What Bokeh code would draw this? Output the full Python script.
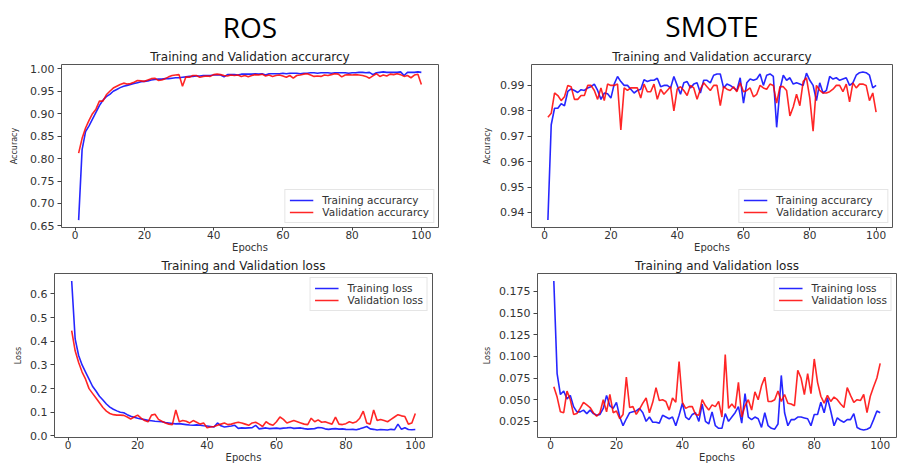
from bokeh.plotting import figure
from bokeh.layouts import row, column
from bokeh.models import Range1d, FixedTicker, PrintfTickFormatter, Title
from bokeh.embed import file_html
from bokeh.resources import INLINE

epochs = list(range(1, 101))

ros_train_acc = [
    0.663, 0.820, 0.860, 0.873, 0.888, 0.903, 0.918, 0.930, 0.938, 0.943,
    0.950, 0.954, 0.958, 0.961, 0.963, 0.965, 0.967, 0.969, 0.971, 0.972,
    0.973, 0.975, 0.976, 0.977, 0.977, 0.978, 0.978, 0.979, 0.980, 0.980,
    0.981, 0.982, 0.983, 0.983, 0.984, 0.984, 0.985, 0.985, 0.985, 0.986,
    0.986, 0.986, 0.982, 0.987, 0.987, 0.987, 0.986, 0.988, 0.988, 0.988,
    0.988, 0.989, 0.988, 0.989, 0.986, 0.989, 0.989, 0.989, 0.989, 0.990,
    0.989, 0.990, 0.990, 0.990, 0.989, 0.990, 0.990, 0.991, 0.991, 0.990,
    0.991, 0.991, 0.991, 0.990, 0.991, 0.991, 0.991, 0.991, 0.990, 0.991,
    0.991, 0.992, 0.992, 0.991, 0.992, 0.987, 0.991, 0.992, 0.993, 0.992,
    0.992, 0.992, 0.992, 0.993, 0.985, 0.992, 0.992, 0.992, 0.993, 0.992,
]
ros_val_acc = [
    0.812, 0.845, 0.868, 0.885, 0.900, 0.910, 0.928, 0.928, 0.942, 0.950,
    0.957, 0.961, 0.965, 0.968, 0.966, 0.967, 0.970, 0.974, 0.973, 0.972,
    0.975, 0.978, 0.979, 0.974, 0.975, 0.978, 0.982, 0.985, 0.986, 0.987,
    0.961, 0.982, 0.981, 0.985, 0.985, 0.981, 0.983, 0.984, 0.983, 0.987,
    0.988, 0.987, 0.985, 0.984, 0.986, 0.985, 0.986, 0.983, 0.985, 0.982,
    0.985, 0.987, 0.986, 0.988, 0.984, 0.986, 0.983, 0.985, 0.986, 0.984,
    0.981, 0.985, 0.979, 0.985, 0.986, 0.988, 0.989, 0.986, 0.983, 0.984,
    0.983, 0.986, 0.985, 0.987, 0.989, 0.988, 0.982, 0.986, 0.987, 0.986,
    0.987, 0.986, 0.985, 0.983, 0.979, 0.984, 0.989, 0.983, 0.986, 0.984,
    0.988, 0.987, 0.989, 0.987, 0.983, 0.985, 0.980, 0.986, 0.988, 0.965,
]
ros_train_loss = [
    0.655, 0.410, 0.340, 0.300, 0.270, 0.240, 0.210, 0.190, 0.168, 0.152,
    0.135, 0.122, 0.113, 0.106, 0.100, 0.098, 0.090, 0.083, 0.079, 0.075,
    0.072, 0.069, 0.066, 0.064, 0.062, 0.061, 0.060, 0.057, 0.055, 0.053,
    0.051, 0.052, 0.050, 0.048, 0.046, 0.045, 0.047, 0.045, 0.043, 0.042,
    0.040, 0.038, 0.055, 0.043, 0.038, 0.040, 0.042, 0.045, 0.032, 0.034,
    0.033, 0.034, 0.035, 0.045, 0.030, 0.032, 0.034, 0.031, 0.032, 0.033,
    0.031, 0.033, 0.034, 0.036, 0.032, 0.033, 0.034, 0.031, 0.029, 0.030,
    0.031, 0.036, 0.035, 0.030, 0.028, 0.030, 0.031, 0.029, 0.030, 0.028,
    0.027, 0.028, 0.026, 0.030, 0.035, 0.040, 0.030, 0.028, 0.025, 0.027,
    0.026, 0.025, 0.028, 0.026, 0.050, 0.028, 0.035, 0.027, 0.026, 0.027,
]
ros_val_loss = [
    0.445, 0.360, 0.310, 0.270, 0.240, 0.200, 0.180, 0.160, 0.140, 0.120,
    0.105, 0.095, 0.090, 0.088, 0.088, 0.087, 0.080, 0.072, 0.080, 0.088,
    0.075, 0.065, 0.060, 0.088, 0.092, 0.070, 0.062, 0.055, 0.050, 0.048,
    0.110, 0.060, 0.065, 0.062, 0.055, 0.065, 0.058, 0.050, 0.055, 0.035,
    0.038, 0.040, 0.045, 0.050, 0.055, 0.048, 0.050, 0.055, 0.058, 0.055,
    0.050, 0.045, 0.055, 0.058, 0.050, 0.040, 0.060, 0.050, 0.045, 0.060,
    0.080, 0.070, 0.055, 0.060, 0.065, 0.060, 0.055, 0.050, 0.048, 0.075,
    0.060, 0.068, 0.058, 0.060, 0.055, 0.050, 0.080, 0.050, 0.048, 0.052,
    0.060, 0.055, 0.060, 0.075, 0.105, 0.055, 0.050, 0.110, 0.065, 0.070,
    0.065, 0.060, 0.070, 0.080, 0.090, 0.085, 0.082, 0.050, 0.055, 0.095,
]

smote_train_acc = [
    0.937, 0.9745, 0.981, 0.981, 0.9828, 0.982, 0.9876, 0.9886, 0.988, 0.9872,
    0.9883, 0.988, 0.989, 0.9895, 0.9905, 0.988, 0.9845, 0.987, 0.9867, 0.985,
    0.9905, 0.9935, 0.9915, 0.990, 0.990, 0.9885, 0.987, 0.988, 0.9885, 0.9922,
    0.9915, 0.992, 0.992, 0.9928, 0.9895, 0.990, 0.990, 0.989, 0.9935, 0.990,
    0.9865, 0.991, 0.9915, 0.989, 0.9905, 0.991, 0.987, 0.992, 0.992, 0.991,
    0.994, 0.9945, 0.9945, 0.989, 0.9905, 0.990, 0.989, 0.988, 0.993, 0.983,
    0.991, 0.9925, 0.992, 0.9925, 0.9945, 0.990, 0.994, 0.9945, 0.9935, 0.9735,
    0.9885, 0.994, 0.992, 0.993, 0.9905, 0.991, 0.9905, 0.990, 0.9948, 0.992,
    0.990, 0.984, 0.991, 0.987, 0.988, 0.9935, 0.9925, 0.993, 0.992, 0.9925,
    0.993, 0.990, 0.991, 0.994, 0.995, 0.9953, 0.995, 0.994, 0.989, 0.990,
]
smote_val_acc = [
    0.9775, 0.979, 0.987, 0.986, 0.984, 0.9855, 0.990, 0.9895, 0.9845, 0.9845,
    0.986, 0.986, 0.990, 0.990, 0.988, 0.9845, 0.989, 0.984, 0.9905, 0.990,
    0.990, 0.9905, 0.9725, 0.989, 0.988, 0.989, 0.989, 0.989, 0.985, 0.9905,
    0.9875, 0.9875, 0.9905, 0.9845, 0.9885, 0.9865, 0.988, 0.9895, 0.980, 0.9885,
    0.9895, 0.988, 0.986, 0.990, 0.989, 0.9845, 0.9885, 0.991, 0.9895, 0.988,
    0.990, 0.990, 0.982, 0.9895, 0.9885, 0.988, 0.9895, 0.9875, 0.991, 0.9875,
    0.988, 0.989, 0.9855, 0.9865, 0.990, 0.989, 0.9885, 0.9905, 0.990, 0.983,
    0.9895, 0.9895, 0.988, 0.978, 0.9815, 0.9865, 0.982, 0.9915, 0.993, 0.985,
    0.972, 0.990, 0.988, 0.987, 0.987, 0.9875, 0.9885, 0.990, 0.990, 0.9875,
    0.9905, 0.9835, 0.991, 0.989, 0.9905, 0.9905, 0.990, 0.984, 0.987, 0.9795,
]
smote_train_loss = [
    0.187, 0.080, 0.056, 0.060, 0.051, 0.055, 0.042, 0.036, 0.036, 0.038,
    0.034, 0.038, 0.034, 0.032, 0.033, 0.040, 0.055, 0.043, 0.040, 0.047,
    0.030, 0.020, 0.028, 0.035, 0.036, 0.037, 0.040, 0.035, 0.025, 0.030,
    0.024, 0.024, 0.023, 0.032, 0.030, 0.028, 0.030, 0.020, 0.032, 0.046,
    0.030, 0.027, 0.033, 0.035, 0.025, 0.045, 0.025, 0.022, 0.036, 0.020,
    0.017, 0.017, 0.034, 0.025, 0.030, 0.035, 0.042, 0.023, 0.057, 0.030,
    0.027, 0.030, 0.028, 0.018, 0.035, 0.020, 0.017, 0.016, 0.022, 0.078,
    0.035, 0.020, 0.027, 0.027, 0.030, 0.030, 0.029, 0.028, 0.020, 0.033,
    0.033, 0.047, 0.035, 0.052, 0.037, 0.020, 0.029, 0.026, 0.024, 0.027,
    0.027, 0.034, 0.018, 0.016, 0.015, 0.016, 0.018, 0.027, 0.037, 0.035,
]
smote_val_loss = [
    0.065, 0.053, 0.036, 0.035, 0.060, 0.050, 0.033, 0.034, 0.040, 0.047,
    0.044, 0.041, 0.035, 0.031, 0.035, 0.050, 0.036, 0.056, 0.035, 0.037,
    0.028, 0.033, 0.076, 0.041, 0.042, 0.033, 0.039, 0.046, 0.052, 0.035,
    0.047, 0.064, 0.049, 0.050, 0.048, 0.038, 0.052, 0.047, 0.094, 0.047,
    0.040, 0.042, 0.042, 0.033, 0.032, 0.050, 0.043, 0.038, 0.044, 0.042,
    0.048, 0.030, 0.102, 0.040, 0.045, 0.040, 0.070, 0.030, 0.043, 0.050,
    0.038, 0.059, 0.050, 0.066, 0.076, 0.048, 0.048, 0.050, 0.060, 0.048,
    0.056, 0.046, 0.045, 0.043, 0.084, 0.075, 0.056, 0.080, 0.057, 0.097,
    0.070, 0.054, 0.046, 0.055, 0.048, 0.053, 0.050, 0.045, 0.041, 0.064,
    0.055, 0.047, 0.050, 0.049, 0.056, 0.035, 0.054, 0.065, 0.075, 0.092,
]

x_ticks = [0, 20, 40, 60, 80, 100]
ros_acc_ticks = [0.65, 0.70, 0.75, 0.80, 0.85, 0.90, 0.95, 1.00]
smote_acc_ticks = [0.94, 0.95, 0.96, 0.97, 0.98, 0.99]
ros_loss_ticks = [0.0, 0.1, 0.2, 0.3, 0.4, 0.5, 0.6]
smote_loss_ticks = [0.025, 0.050, 0.075, 0.100, 0.125, 0.150, 0.175]

FONT = "DejaVu Sans"
TXT = "#333333"


def padded(a, b):
    lo = min(min(a), min(b))
    hi = max(max(a), max(b))
    m = (hi - lo) * 0.05
    return Range1d(lo - m, hi + m)


def style_title(t, size, color, font=FONT):
    t.text_font = font
    t.text_font_size = size
    t.text_font_style = "normal"
    t.text_color = color
    t.align = "center"


def panel(title, ylabel, train, val, names, yticks, yfmt, legend_loc,
          width, height, bl, br, bt, bb, ylab_standoff, big=None, big_offset=0,
          big_standoff=0, sub_standoff=2):
    x_lo, x_hi = min(epochs), max(epochs)
    xm = (x_hi - x_lo) * 0.05
    p = figure(width=width, height=height, output_backend="svg",
               toolbar_location=None,
               x_range=Range1d(x_lo - xm, x_hi + xm),
               y_range=padded(train, val),
               min_border_left=bl, min_border_right=br,
               min_border_top=bt, min_border_bottom=bb)
    if big is not None:
        p.title.text = big
        style_title(p.title, "28px", "#000000", font="Open Sans")
        p.title.text_line_height = 0.6
        p.title.vertical_align = "top"
        p.title.offset = big_offset
        p.title.standoff = big_standoff
        sub = Title(text=title, standoff=sub_standoff)
        style_title(sub, "12px", "#222222")
        p.add_layout(sub, "above")
    else:
        p.title.text = title
        style_title(p.title, "12px", "#222222")
        p.title.standoff = 2
    p.background_fill_color = "white"
    p.border_fill_color = "white"
    p.outline_line_color = "#555555"
    p.outline_line_width = 1
    p.xgrid.visible = False
    p.ygrid.visible = False
    p.line(epochs, train, line_color="#0000ff", line_width=1.6, line_alpha=0.85,
           legend_label=names[0])
    p.line(epochs, val, line_color="#ff0000", line_width=1.6, line_alpha=0.85,
           legend_label=names[1])

    for ax in (p.xaxis[0], p.yaxis[0]):
        ax.axis_line_color = None
        ax.major_tick_line_color = "#444444"
        ax.major_tick_out = 4
        ax.major_tick_in = 0
        ax.minor_tick_line_color = None
        ax.major_label_text_font = FONT
        ax.major_label_text_font_size = "11px"
        ax.major_label_text_color = TXT
        ax.axis_label_text_font = FONT
        ax.axis_label_text_font_style = "normal"
        ax.axis_label_text_color = TXT
    p.xaxis[0].ticker = FixedTicker(ticks=x_ticks)
    p.xaxis[0].axis_label = "Epochs"
    p.xaxis[0].axis_label_text_font_size = "10px"
    p.xaxis[0].major_tick_out = 3
    p.xaxis[0].major_label_text_font_size = "10.5px"
    p.xaxis[0].major_label_standoff = 0
    p.xaxis[0].axis_label_standoff = 0
    p.yaxis[0].ticker = FixedTicker(ticks=yticks)
    p.yaxis[0].formatter = PrintfTickFormatter(format=yfmt)
    p.yaxis[0].axis_label = ylabel
    p.yaxis[0].axis_label_text_font_size = "8px"
    p.yaxis[0].major_label_standoff = 3
    p.yaxis[0].axis_label_standoff = ylab_standoff

    lg = p.legend[0]
    lg.location = legend_loc
    lg.label_text_font = FONT
    lg.label_text_font_size = "10.5px"
    lg.label_text_color = TXT
    lg.glyph_width = 24
    lg.glyph_height = 10
    lg.label_height = 10
    lg.label_standoff = 9
    lg.spacing = 0
    lg.padding = 4
    lg.margin = 4
    lg.border_line_color = "#cccccc"
    lg.background_fill_alpha = 0.85
    return p


top_h = 255
bot_h = 214
left_w = 480
right_w = 417

p1 = panel("Training and Validation accurarcy", "Accuracy", ros_train_acc, ros_val_acc,
           ["Training accurarcy", "Validation accurarcy"], ros_acc_ticks, "%.2f",
           "bottom_right", left_w, top_h, 61, 42, 60, 26, 8, big="ROS", big_offset=-10,
           big_standoff=0, sub_standoff=1)
p2 = panel("Training and Validation accurarcy", "Accuracy", smote_train_acc, smote_val_acc,
           ["Training accurarcy", "Validation accurarcy"], smote_acc_ticks, "%.2f",
           "bottom_right", right_w, top_h, 49, 5, 64, 26, 5, big="SMOTE", big_offset=8,
           big_standoff=0, sub_standoff=2)
p3 = panel("Training and Validation loss", "Loss", ros_train_loss, ros_val_loss,
           ["Training loss", "Validation loss"], ros_loss_ticks, "%.1f",
           "top_right", left_w, bot_h, 54, 48, 18, 26, 4)
p4 = panel("Training and Validation loss", "Loss", smote_train_loss, smote_val_loss,
           ["Training loss", "Validation loss"], smote_loss_ticks, "%.3f",
           "top_right", right_w, bot_h, 57, 1, 18, 32, 4)

layout = column(row(p1, p2), row(p3, p4))

open("out.html", "w").write(file_html(layout, INLINE))
